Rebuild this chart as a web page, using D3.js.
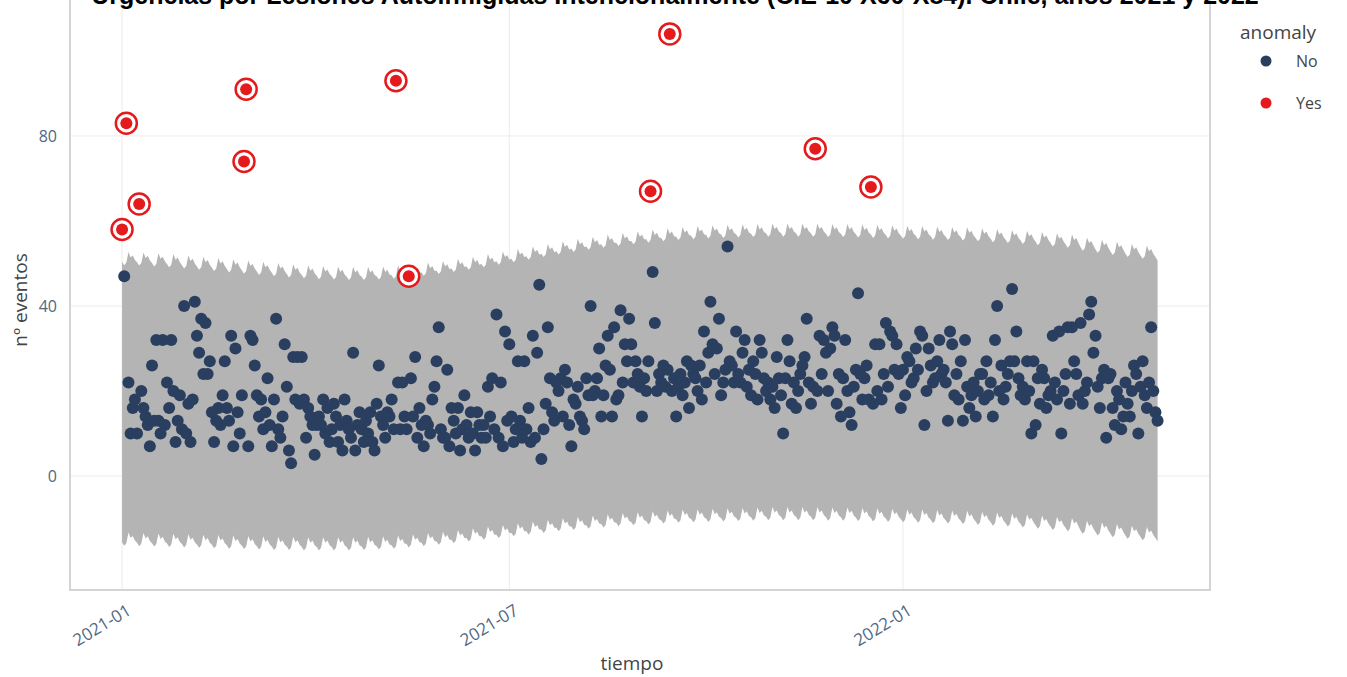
<!DOCTYPE html>
<html>
<head>
<meta charset="utf-8">
<script src="https://cdn.jsdelivr.net/npm/d3@7"></script>
<style>
  body { margin: 0; background: #fff; font-family: "Open Sans", sans-serif; }
</style>
</head>
<body>
<svg id="chart" width="1347" height="677"></svg>
<script>
// daily counts from 2021-01-01, one row per week
const eventos = [
  58,47,83,22,10,16,18, 10,64,20,16,14,12,7, 26,13,32,13,10,32,12, 22,16,32,20,8,13,19,
  11,40,10,17,8,18,41, 33,29,37,24,36,24,27, 15,8,13,16,12,19,27, 16,13,33,7,30,15,10,
  19,74,91,7,33,32,26, 19,14,18,11,15,23,12, 7,18,37,11,9,14,31, 21,6,3,28,18,28,17,
  28,18,9,16,14,12,5, 12,14,12,18,10,16,8, 11,17,14,8,12,6,18, 13,11,9,29,6,12,15,
  11,8,13,10,15,8,6, 17,26,14,12,9,15,14, 18,11,93,22,11,22,14, 11,47,23,14,28,9,16,
  12,7,13,12,10,18,21, 27,35,11,9,9,25,7, 16,13,10,16,6,11,19, 12,9,15,10,6,15,12,
  9,12,9,21,14,23,11, 38,9,22,7,34,13,31, 14,8,11,27,13,9,27, 11,16,8,33,9,29,45,
  4,11,17,35,23,15,13, 22,20,23,14,25,22,12, 7,18,17,21,14,13,11, 23,19,40,19,20,23,30,
  14,19,26,33,25,14,35, 18,19,39,22,31,27,37, 31,22,27,24,21,14,23, 20,27,67,48,36,20,24,
  22,26,21,25,104,20,23, 14,21,24,19,22,27,16, 26,24,23,20,26,18,34, 22,29,41,31,24,30,37,
  19,22,25,54,27,26,22, 34,24,22,29,32,21,25, 19,27,24,18,32,29,23, 20,22,18,21,16,28,23,
  19,10,23,32,27,17,22, 16,20,24,26,28,37,22, 17,21,77,20,33,24,32, 29,20,30,35,33,17,24,
  14,23,32,20,15,12,21, 25,43,24,18,23,26,18, 68,17,31,20,31,18,24, 36,21,34,33,25,31,24,
  16,25,19,28,27,22,23, 30,25,34,33,12,20,30, 26,22,23,27,32,24,25, 22,13,34,31,19,24,18,
  27,13,32,21,16,19,22, 14,20,24,24,18,27,19, 22,14,32,40,20,26,18, 21,24,27,44,27,34,23,
  19,21,18,27,20,10,27, 12,23,17,25,23,16,19, 20,33,22,18,34,10,20, 24,35,17,35,27,24,19,
  36,17,20,22,38,41,29, 33,21,16,23,25,9,23, 24,16,12,20,18,11,14, 22,17,14,20,26,24,10,
  21,27,19,16,22,35,20, 15,13
]

const anomalyDates = ['2021-01-01', '2021-01-03', '2021-01-09', '2021-02-27', '2021-02-28',
  '2021-05-09', '2021-05-15', '2021-09-05', '2021-09-14', '2021-11-21', '2021-12-17']

// top and bottom edges of the interval band, one value per week
const bandTop = [
  51.0, 50.9, 50.7, 50.5, 50.2, 49.9, 49.6, 49.3, 49.0, 48.7, 48.4, 48.1,
  47.9, 47.7, 47.6, 47.5, 47.5, 47.6, 47.8, 48.1, 48.5, 48.9, 49.4, 49.9, 50.5,
  51.1, 51.7, 52.3, 52.9, 53.5, 54.1, 54.6, 55.1, 55.5, 55.9, 56.3, 56.6, 56.9,
  57.1, 57.3, 57.4, 57.5, 57.6, 57.7, 57.7, 57.7, 57.7, 57.6, 57.6, 57.5, 57.4,
  57.3, 57.2, 57.1, 57.0, 56.9, 56.8, 56.6, 56.4, 56.2, 56.0, 55.7, 55.4, 55.1,
  54.4, 53.9, 53.4, 52.9, 52.5, 52.1
]
const bandBottom = [
  -15.0, -15.1, -15.2, -15.3, -15.4, -15.5, -15.6, -15.7, -15.8, -15.9, -16.0, -16.0,
  -16.1, -16.1, -16.1, -16.1, -16.0, -15.9, -15.7, -15.4, -15.1, -14.8, -14.4, -14.0, -13.6,
  -13.2, -12.8, -12.4, -12.0, -11.6, -11.3, -11.0, -10.7, -10.4, -10.2, -10.0, -9.8, -9.6,
  -9.5, -9.4, -9.3, -9.2, -9.1, -9.0, -9.0, -9.0, -9.0, -9.1, -9.1, -9.2, -9.3,
  -9.4, -9.5, -9.6, -9.7, -9.8, -9.9, -10.1, -10.3, -10.5, -10.7, -11.0, -11.3, -11.6,
  -12.2, -12.6, -13.0, -13.4, -13.7, -14.0
]
// weekly wiggle, Monday first
const weeklyShape = [1.7, 0.4, 0.9, -0.2, -0.6, -1.4, -0.8]

const yTicks = [0, 40, 80]
const xTicks = ['2021-01-01', '2021-07-01', '2022-01-01']

const svg = d3.select('#chart')
const parse = d3.utcParse('%Y-%m-%d')
const fmt = d3.utcFormat('%Y-%m-%d')
const start = parse('2021-01-01')

const rows = eventos.map((v, i) => {
  const date = d3.utcDay.offset(start, i)
  const w = weeklyShape[(date.getUTCDay() + 6) % 7]
  const k = Math.floor(i / 7)
  return { date, value: v, hi: bandTop[k] + w, lo: bandBottom[k] + w, anomaly: anomalyDates.includes(fmt(date)) }
})

const x = d3.scaleUtc()
  .domain([Date.UTC(2020, 11, 7, 16), Date.UTC(2022, 4, 24, 12)])
  .range([70, 1210])
const y = d3.scaleLinear()
  .domain([-26.82, 110.1])
  .range([590, 8])

// grid
svg.append('g').selectAll('line')
  .data(yTicks)
  .enter()
  .append('line')
  .attr('x1', 70).attr('x2', 1210)
  .attr('y1', d => y(d)).attr('y2', d => y(d))
  .attr('stroke', '#ececec')
svg.append('g').selectAll('line')
  .data(xTicks)
  .enter()
  .append('line')
  .attr('x1', d => x(parse(d))).attr('x2', d => x(parse(d)))
  .attr('y1', 0).attr('y2', 590)
  .attr('stroke', '#ececec')

// interval band
svg.append('path')
  .datum(rows)
  .attr('fill', '#b4b4b4')
  .attr('d', d3.area().x(d => x(d.date)).y0(d => y(d.lo)).y1(d => y(d.hi)))

// frame
svg.append('path')
  .attr('d', 'M70,-2V590H1210V-2')
  .attr('fill', 'none')
  .attr('stroke', '#d4d4d4')
  .attr('stroke-width', 2)

// points
svg.append('g').selectAll('circle')
  .data(rows.filter(d => !d.anomaly))
  .enter()
  .append('circle')
  .attr('cx', d => x(d.date))
  .attr('cy', d => y(d.value))
  .attr('r', 6)
  .attr('fill', '#2a3f5f')

const red = svg.append('g').selectAll('g')
  .data(rows.filter(d => d.anomaly))
  .enter()
  .append('g')
  .attr('transform', d => `translate(${x(d.date)},${y(d.value)})`)
red.append('circle').attr('r', 10.5).attr('fill', '#fff').attr('stroke', '#e41a1c').attr('stroke-width', 2.5)
red.append('circle').attr('r', 6).attr('fill', '#e41a1c')

// axes
const yAxis = svg.append('g')
  .attr('transform', 'translate(60,0)')
  .call(d3.axisLeft(y).tickValues(yTicks).tickSize(0))
yAxis.select('.domain').remove()
yAxis.selectAll('text').attr('font-size', 16).attr('fill', '#506784').attr('font-family', 'Open Sans')

const xAxis = svg.append('g')
  .attr('transform', 'translate(2,601)')
  .call(d3.axisBottom(x).tickValues(xTicks.map(parse)).tickFormat(d3.utcFormat('%Y-%m')).tickSize(0))
xAxis.select('.domain').remove()
xAxis.selectAll('text')
  .attr('font-size', 17)
  .attr('fill', '#506784')
  .attr('font-family', 'Open Sans')
  .attr('text-anchor', 'end')
  .attr('dy', '0.7em')
  .attr('transform', 'rotate(-31)')

svg.append('text')
  .attr('x', 632).attr('y', 670)
  .attr('text-anchor', 'middle')
  .attr('font-size', 19).attr('fill', '#444')
  .text('tiempo')
svg.append('text')
  .attr('transform', 'translate(27,300) rotate(-90)')
  .attr('text-anchor', 'middle')
  .attr('font-size', 19).attr('fill', '#444')
  .text('nº eventos')

// title (cut at the top edge, as in the source)
svg.append('text')
  .attr('x', 675).attr('y', 4)
  .attr('text-anchor', 'middle')
  .attr('font-family', 'Liberation Sans, Arial, sans-serif')
  .attr('font-weight', 'bold')
  .attr('font-size', 25)
  .attr('fill', '#000')
  .text('Urgencias por Lesiones Autoinfligidas Intencionalmente (CIE-10 X60-X84). Chile, años 2021 y 2022')

// legend
const legend = svg.append('g')
legend.append('text')
  .attr('x', 1240).attr('y', 39)
  .attr('font-size', 19).attr('fill', '#444')
  .text('anomaly')
const items = legend.selectAll('.legend-element')
  .data([{ label: 'No', color: '#2a3f5f' }, { label: 'Yes', color: '#e41a1c' }])
  .enter()
  .append('g')
  .attr('class', 'legend-element')
  .attr('transform', (d, i) => `translate(1266,${61 + i * 42})`)
items.append('circle').attr('r', 5.5).style('fill', d => d.color)
items.append('text')
  .attr('x', 30).attr('y', 6)
  .attr('font-size', 16).attr('fill', '#444')
  .text(d => d.label)
</script>
</body>
</html>
